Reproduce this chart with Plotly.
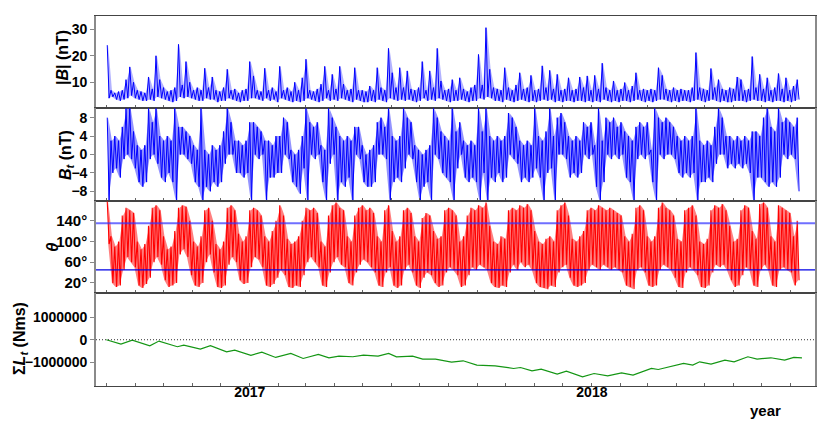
import pandas as pd
import plotly.graph_objects as go
from plotly.subplots import make_subplots

# ---------------- data ----------------
START = "2016-08-01"   # first 4-day bin
BIN_DAYS = 4

# |B| (nT): per-bin high / low
bmag_hi = [24, 7, 6, 6.5, 7, 11, 15.8, 10, 7, 6.5,
           6, 12, 7.5, 20, 11, 8, 6.5, 7, 8, 24.3,
           9, 17.8, 10, 7, 8, 7, 15.3, 8, 12, 7,
           6.5, 8, 14.9, 7, 7.5, 6, 7, 7.5, 17.8, 12.4,
           7, 6.5, 15.3, 7, 8, 6.5, 16, 7, 8, 6.5,
           10, 7, 11.7, 18.7, 7, 6.5, 7.5, 9.3, 16, 7,
           13, 7.5, 16, 9.3, 7, 7.5, 15.5, 7, 7, 6.5,
           8.6, 7, 15.5, 8, 7, 22.8, 13.6, 8, 15.5, 8,
           14.3, 7.5, 7, 8, 17.8, 7, 14.3, 8, 22.8, 10.5,
           7, 7.5, 11, 7, 11.7, 7.5, 6.5, 8, 9, 20.5,
           9, 30.6, 14.9, 8, 7.5, 7, 15.5, 8, 7, 9,
           13.6, 7.5, 8, 12.6, 7, 7.5, 16.2, 8, 14.5, 7.5,
           13, 7, 7.5, 11.7, 7, 7.5, 12, 8, 12.4, 7,
           12.6, 7.5, 17.2, 8, 7, 10.5, 7, 7.5, 9.9, 7,
           8.6, 13.6, 7, 7.5, 7, 7.5, 7, 15.5, 12.6, 7.5,
           7, 8, 7, 7.5, 7, 7, 8, 21.2, 8, 7.5,
           7, 15.2, 8, 11, 7.5, 7, 8, 7.5, 12, 11,
           7, 7.5, 19.7, 8, 13, 7.5, 11.7, 7, 8, 13.3,
           7.5, 11.7, 7, 8.6, 11]
bmag_lo = [4, 4.5, 3.5, 3, 3.5, 4, 5, 4, 3.5, 3,
           3, 3.5, 3, 4.5, 4, 3.5, 3, 2.5, 3, 4.5,
           4, 4.5, 4, 3.5, 3, 3, 4, 3.5, 3.5, 2.5,
           3, 3, 4, 3.5, 3, 2.5, 3, 3, 4, 4,
           3.5, 3, 4, 3, 3.5, 2.5, 4, 3.5, 3, 2.5,
           3, 2.5, 3, 4, 3.5, 3, 2.5, 3, 4, 3,
           3.5, 3, 4, 3.5, 3, 2.5, 3.5, 3, 2.5, 2.5,
           3, 2.5, 3.5, 3, 2.5, 4, 3.5, 3, 3.5, 3,
           3.5, 3, 2.5, 3, 4, 3, 3.5, 3, 4, 3.5,
           3, 2.5, 3, 3, 3.5, 3, 2.5, 3, 3, 4,
           3.5, 4.5, 4, 3, 3, 2.5, 3.5, 3, 2.5, 3,
           3.5, 3, 2.5, 3, 2.5, 3, 3.5, 3, 3.5, 2.5,
           3, 2.5, 3, 3, 2.5, 3, 3, 2.5, 3, 2.5,
           3, 2.5, 3.5, 3, 2.5, 3, 2.5, 3, 3, 2.5,
           3, 3.5, 3, 2.5, 3, 2.5, 3, 3.5, 3.5, 3,
           2.5, 3, 2.5, 3, 3, 2.5, 3, 3.5, 3, 2.5,
           3, 3.5, 3, 2.5, 3, 2.5, 2.5, 3, 3, 3,
           2.5, 3, 3.5, 3, 3, 2.5, 3, 2.5, 3, 3,
           2.5, 3, 2.5, 3, 3.5]

# B_t (nT): per-bin high / low
bt_hi = [8, 3, 4, 3, 6, 10, 10, 5, 2, 1,
         2, 10, 7, 10, 4, 3, 4, 3, 10, 6,
         6, 5, 4, 2, 1, 10, 1, 0, 2, 1,
         2, 5, 10, 7, 3, 3, 2, 3, 7, 7,
         6, 5, 3, 3, 2, 4, 4, 8, 7, 1,
         0, 1, 4, 10, 7, 6, 7, 2, 1, 10,
         8, 6, 4, 3, 4, 3, 6, 6, 2, 0,
         1, 2, 7, 8, 6, 10, 4, 3, 4, 10,
         8, 7, 2, 1, 0, 1, 2, 10, 8, 5,
         4, 3, 10, 5, 7, 3, 2, 3, 2, 10,
         5, 10, 4, 3, 4, 3, 4, 9, 8, 6,
         3, 2, 3, 2, 10, 4, 3, 5, 10, 4,
         8, 9, 7, 4, 3, 4, 3, 7, 6, 7,
         2, 10, 3, 8, 7, 8, 6, 7, 5, 4,
         3, 6, 7, 6, 7, 1, 10, 8, 7, 8,
         7, 6, 4, 3, 4, 3, 4, 10, 3, 2,
         3, 2, 6, 10, 8, 4, 4, 3, 4, 3,
         4, 3, 5, 5, 4, 8, 10, 6, 5, 10,
         7, 8, 7, 6, 8]
bt_lo = [-10, -4, -3, -5, -1, 0, -1, -3, -6, -7,
         -6, -1, 0, -2, -5, -6, -4, -6, -10, 0,
         0, -1, -2, -6, -7, -10, -7, -8, -6, -7,
         -6, -2, 0, 0, -4, -4, -5, -4, -10, 0,
         -1, 0, -10, -5, -5, -4, -4, 0, -1, -6,
         -7, -8.5, -3, -10, 0, -1, 0, -6, -10, -2,
         0, -10, -6, -7, -5, -10, 0, -1, -6, -7,
         -7, -6, 0, 0, -1, -10, -6, -5, -6, -3,
         0, -1, -6, -10, -7, -6, -10, 0, -1, -4,
         -5, -6, -10, -3, 0, -5, -6, -5, -6, -10,
         -4, -10, -5, -6, -4, -6, -5, 0, -1, -2,
         -6, -5, -6, -5, -3, -5, -10, -4, -3, -10,
         0, 0, -1, -5, -4, -5, -4, 0, -1, 0,
         -7, -10, -6, 0, -1, 0, -1, 0, -5, -6,
         -10, -1, 0, -1, 0, -6, -10, 0, -1, 0,
         0, -1, -4, -5, -4, -5, -4, -10, -6, -6,
         -5, -6, -2, 0, 0, -3, -2, -3, -2, -3,
         -2, -4, -10, -5, -5, -6, -7, -6, -7, -5,
         0, -1, 0, -1, -8]

# theta (deg): per-bin high / low
th_hi = [177, 110, 90, 100, 150, 165, 160, 155, 100, 85,
         95, 130, 165, 170, 160, 110, 85, 90, 120, 165,
         170, 167, 140, 100, 90, 110, 160, 165, 140, 95,
         85, 100, 165, 170, 160, 115, 100, 110, 160, 165,
         160, 150, 110, 100, 120, 140, 170, 150, 105, 95,
         100, 110, 140, 165, 160, 165, 155, 100, 90, 150,
         170, 175, 165, 160, 110, 100, 150, 165, 170, 160,
         165, 155, 110, 100, 160, 170, 120, 100, 110, 160,
         165, 155, 110, 100, 145, 155, 150, 120, 105, 110,
         160, 165, 160, 150, 100, 110, 150, 165, 160, 170,
         165, 175, 130, 100, 95, 110, 105, 160, 165, 160,
         170, 165, 172, 160, 120, 100, 95, 105, 110, 100,
         160, 170, 175, 150, 105, 100, 110, 120, 160, 165,
         160, 170, 165, 160, 165, 160, 155, 150, 110, 100,
         115, 165, 170, 160, 110, 100, 110, 165, 175, 165,
         160, 150, 105, 100, 160, 165, 170, 150, 100, 95,
         105, 160, 170, 165, 172, 160, 130, 100, 105, 160,
         170, 165, 120, 105, 172, 175, 165, 110, 100, 170,
         165, 160, 155, 110, 140]
th_lo = [95, 20, 12, 15, 45, 70, 60, 50, 15, 10,
         18, 30, 60, 70, 55, 25, 12, 15, 20, 75,
         85, 70, 35, 15, 12, 20, 60, 75, 40, 12,
         10, 15, 55, 70, 60, 25, 18, 20, 50, 70,
         65, 50, 15, 12, 18, 30, 45, 35, 12, 10,
         15, 12, 35, 60, 70, 60, 50, 15, 12, 40,
         60, 70, 55, 50, 20, 15, 40, 55, 65, 60,
         50, 40, 15, 12, 40, 50, 15, 10, 15, 45,
         55, 40, 15, 10, 30, 40, 35, 20, 12, 15,
         40, 50, 45, 35, 12, 15, 35, 50, 45, 55,
         50, 45, 20, 12, 10, 15, 12, 40, 55, 45,
         60, 50, 55, 45, 20, 12, 10, 8, 15, 12,
         40, 50, 55, 30, 15, 12, 15, 20, 45, 55,
         50, 45, 55, 50, 45, 50, 45, 40, 15, 12,
         8, 45, 50, 40, 15, 12, 15, 45, 55, 50,
         45, 30, 12, 10, 40, 50, 45, 35, 12, 10,
         15, 40, 55, 50, 55, 45, 25, 12, 15, 35,
         50, 45, 15, 12, 45, 55, 45, 15, 12, 45,
         50, 45, 40, 15, 25]
THETA_REF = [45, 135]

# cumulative angular momentum (Nms): day offset from START, value (thousands)
L_days = [0, 15.6, 27.7, 46.4, 56.2, 75.8, 82.7, 100.3, 111.1, 128.3,
          137.0, 154.2, 165.9, 180.7, 196.8, 210, 226.2, 237.5, 248.2, 263,
          274.3, 289.9, 301.2, 309.5, 326.7, 337.5, 351.2, 368.3, 380.6, 395.3,
          414.8, 434.5, 441.8, 454.1, 463.9, 481, 490.8, 508, 520.3, 534.9,
          549.6, 561.9, 581.5, 588.8, 615.8, 625.6, 633, 645.1, 659.9, 669.7,
          684.4, 694.2, 708.9, 723.6, 733.4, 742.1]
L_kilo = [0, -193, -15, -267, -59, -311, -237, -415, -267, -533,
          -459, -696, -548, -785, -607, -830, -652, -800, -726, -755,
          -681, -726, -607, -755, -726, -859, -859, -993, -933, -1126,
          -1156, -1274, -1230, -1378, -1304, -1526, -1393, -1644, -1496, -1600,
          -1467, -1570, -1274, -1319, -1052, -1126, -978, -1081, -904, -978,
          -755, -859, -800, -904, -785, -800]

X_RANGE = ["2016-07-21", "2018-08-27"]
MONTH_TICKS = pd.date_range("2016-08-01", "2018-08-01", freq="MS")
YEAR_LABELS = {2017: "2017", 2018: "2018"}

Y_TITLES = ["<b>|<i>B</i>| (nT)</b>",
            "<b><i>B</i><sub><i>t</i></sub> (nT)</b>",
            "<b><i>θ</i></b>",
            "<b>Σ<i>L</i><sub><i>t</i></sub> (Nms)</b>"]

# ---------------- build ----------------
t0 = pd.Timestamp(START)


def zigzag(hi, lo):
    xs, ys = [], []
    for k, (h, l) in enumerate(zip(hi, lo)):
        xs.append(t0 + pd.Timedelta(days=BIN_DAYS * k + 1))
        ys.append(h)
        xs.append(t0 + pd.Timedelta(days=BIN_DAYS * k + 3))
        ys.append(l)
    return xs, ys


def centers(n):
    return [t0 + pd.Timedelta(days=BIN_DAYS * k + 2) for k in range(n)]


def add_band(fig, hi, lo, row, line_color, fill_color, width):
    xc = centers(len(hi))
    fig.add_trace(go.Scatter(x=xc, y=lo, mode="lines", line=dict(width=0),
                             hoverinfo="skip"), row=row, col=1)
    fig.add_trace(go.Scatter(x=xc, y=hi, mode="lines", line=dict(width=0),
                             fill="tonexty", fillcolor=fill_color,
                             hoverinfo="skip"), row=row, col=1)
    xs, ys = zigzag(hi, lo)
    fig.add_trace(go.Scatter(x=xs, y=ys, mode="lines",
                             line=dict(color=line_color, width=width)), row=row, col=1)


fig = make_subplots(rows=4, cols=1, shared_xaxes=True, vertical_spacing=0)

add_band(fig, bmag_hi, bmag_lo, 1, "rgb(0,0,255)", "rgba(0,0,255,0.3)", 1.0)
add_band(fig, bt_hi, bt_lo, 2, "rgb(0,0,255)", "rgba(0,0,255,0.42)", 1.0)
add_band(fig, th_hi, th_lo, 3, "rgb(255,0,0)", "rgba(255,0,0,0.5)", 1.1)

xL = [t0 + pd.Timedelta(days=d) for d in L_days]
yL = [v * 1000 for v in L_kilo]
fig.add_trace(go.Scatter(x=xL, y=yL, mode="lines",
                         line=dict(color="rgb(20,150,20)", width=1.2)), row=4, col=1)

fig.add_hline(y=THETA_REF[1], row=3, col=1,
              line=dict(color="rgba(50,50,255,0.7)", width=2))
fig.add_hline(y=THETA_REF[0], row=3, col=1,
              line=dict(color="rgb(0,0,230)", width=1.2))
fig.add_hline(y=0, row=4, col=1, line=dict(color="#333", width=1, dash="1px,2px"))

ticktext = [YEAR_LABELS.get(d.year, "") if d.month == 1 else "" for d in MONTH_TICKS]

FONT = "Liberation Sans, Arial, sans-serif"
# page offset of 8px (body margin) is compensated in the margins
L_M, R_M, T_M, B_M = 88, 23, 8, 55
H = 370.0
W = 719.0
doms = [((386 - 108) / H, 1.0), ((386 - 201) / H, (386 - 108) / H),
        ((386 - 293) / H, (386 - 201) / H), (0.0, (386 - 293) / H)]

for i in range(4):
    fig.update_xaxes(row=i + 1, col=1, range=X_RANGE, type="date",
                     tickmode="array", tickvals=list(MONTH_TICKS), ticktext=ticktext,
                     ticks="inside", ticklen=3, tickcolor="#666", tickwidth=1,
                     showticklabels=(i == 3), showgrid=False, zeroline=False,
                     showline=True, mirror=True, linecolor="#444", linewidth=1.3,
                     automargin=False,
                     tickfont=dict(size=14, family=FONT, color="black"))
    fig.update_yaxes(row=i + 1, col=1, domain=list(doms[i]), showgrid=False,
                     zeroline=False, showline=True, mirror=True,
                     linecolor="#8a8a8a", linewidth=1.6,
                     ticks="outside", ticklen=4, tickcolor="#888",
                     automargin=False,
                     tickfont=dict(size=14, family=FONT, color="black"))

fig.update_yaxes(row=1, col=1, range=[0.3, 35], tickvals=[10, 20, 30],
                 ticktext=["<b>10</b>", "<b>20</b>", "<b>30</b>"])
fig.update_yaxes(row=2, col=1, range=[-10.1, 10.1], tickvals=[-8, -4, 0, 4, 8],
                 ticktext=["<b>−8</b>", "<b>−4</b>", "<b>0</b>", "<b>4</b>", "<b>8</b>"])
fig.update_yaxes(row=3, col=1, range=[0.5, 178], tickvals=[20, 60, 100, 140],
                 ticktext=["<b>20°</b>", "<b>60°</b>", "<b>100°</b>", "<b>140°</b>"],
                 tickfont=dict(size=15, family=FONT, color="black"))
fig.update_yaxes(row=4, col=1, range=[-2.05e6, 2.07e6], tickvals=[-1e6, 0, 1e6],
                 ticktext=["<b>−1000000</b>", "<b>0</b>", "<b>1000000</b>"])
fig.update_xaxes(row=4, col=1, ticklabelstandoff=-7,
                 ticktext=["<b>%s</b>" % t if t else "" for t in ticktext])

# y-axis titles as rotated annotations (screen positions from the reference)
title_pos = [(63, 58, 16), (66, 155, 16), (52, 247, 17), (20, 339, 16)]
for txt, (xs_, ys_, fs) in zip(Y_TITLES, title_pos):
    fig.add_annotation(text=txt, xref="paper", yref="paper",
                       x=(xs_ - 96) / W, y=(386 - ys_) / H, textangle=-90,
                       showarrow=False, xanchor="center", yanchor="middle",
                       font=dict(size=fs, family=FONT, color="black"))

fig.add_annotation(text="<b>year</b>", xref="paper", yref="paper",
                   x=(765 - 96) / W, y=(386 - 410) / H, showarrow=False,
                   xanchor="center", yanchor="middle",
                   font=dict(size=15, family=FONT, color="black"))

fig.update_layout(width=830, height=433, showlegend=False,
                  margin=dict(l=L_M, r=R_M, t=T_M, b=B_M, autoexpand=False),
                  paper_bgcolor="white", plot_bgcolor="white",
                  font=dict(family=FONT, color="black", size=14))

fig.write_html("out.html")
